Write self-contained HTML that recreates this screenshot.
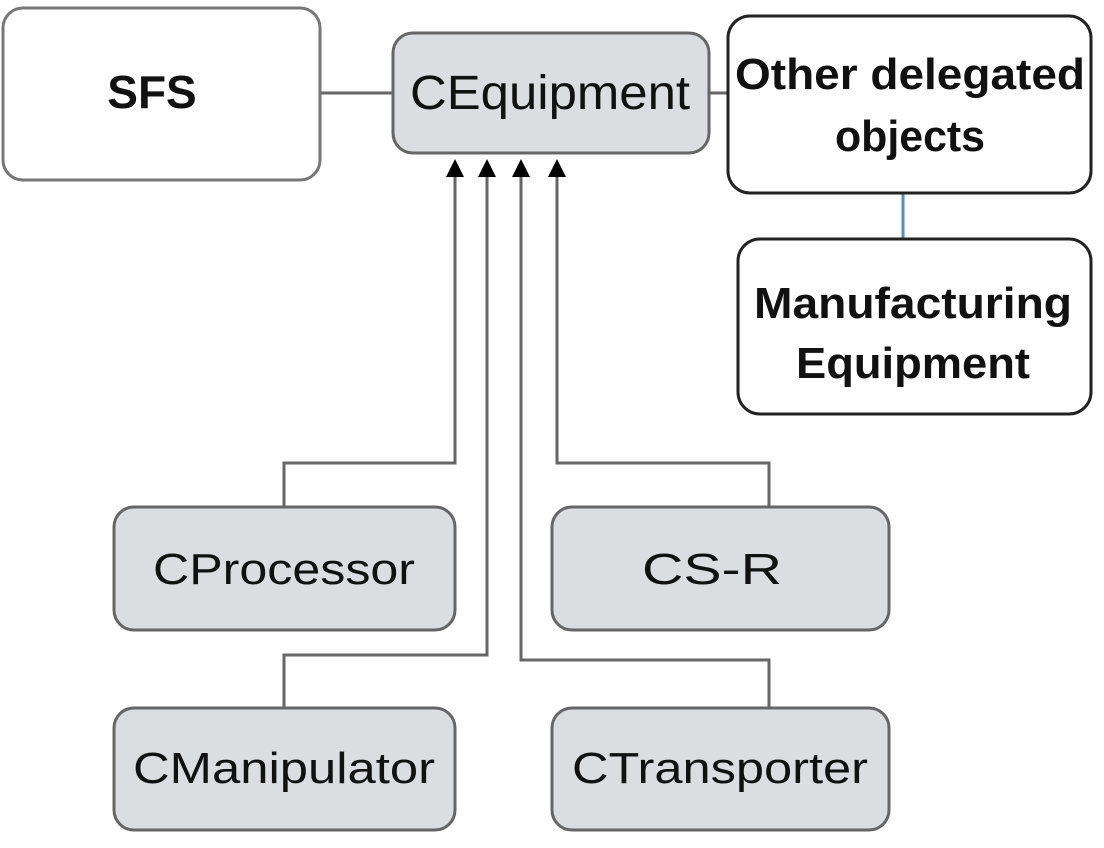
<!DOCTYPE html>
<html><head><style>html,body{margin:0;padding:0;background:#fff}svg{display:block}</style></head><body>
<svg width="1104" height="848" viewBox="0 0 1104 848" xmlns="http://www.w3.org/2000/svg" font-family="Liberation Sans, sans-serif">
<g stroke="#666" stroke-width="3" fill="none">
<line x1="320" y1="93" x2="392" y2="93"/>
<line x1="709" y1="93" x2="727" y2="93"/>
<polyline points="455,172 455,463 284,463 284,507"/>
<polyline points="557,172 557,463 769,463 769,507"/>
<polyline points="487,172 487,655 284,655 284,708"/>
<polyline points="521,172 521,660 769,660 769,708"/>
</g>
<line x1="903" y1="193" x2="903" y2="238" stroke="#5b8cc0" stroke-width="3"/>
<g fill="#000">
<polygon points="455,159 446,177 464,177"/>
<polygon points="487,159 478,177 496,177"/>
<polygon points="521,159 512,177 530,177"/>
<polygon points="557,159 548,177 566,177"/>
</g>
<rect x="3" y="8" width="317" height="172" rx="20" fill="#fff" stroke="#777" stroke-width="3"/>
<rect x="393" y="33" width="316" height="120" rx="20" fill="#dcdde0" stroke="#666" stroke-width="3"/>
<rect x="728" y="16" width="363" height="177" rx="22" fill="#fff" stroke="#222" stroke-width="3"/>
<rect x="738" y="239" width="353" height="175" rx="22" fill="#fff" stroke="#222" stroke-width="3"/>
<rect x="114" y="507" width="341" height="123" rx="20" fill="#dcdde0" stroke="#666" stroke-width="3"/>
<rect x="552" y="507" width="337" height="123" rx="20" fill="#dcdde0" stroke="#666" stroke-width="3"/>
<rect x="114" y="708" width="341" height="122" rx="20" fill="#dcdde0" stroke="#666" stroke-width="3"/>
<rect x="552" y="708" width="337" height="122" rx="20" fill="#dcdde0" stroke="#666" stroke-width="3"/>
<g fill="#111" text-anchor="middle">
<text x="152" y="108" font-size="46" font-weight="bold">SFS</text>
<text x="550" y="109" font-size="48" textLength="280" lengthAdjust="spacingAndGlyphs">CEquipment</text>
<text x="284" y="584" font-size="44" textLength="262" lengthAdjust="spacingAndGlyphs">CProcessor</text>
<text x="712" y="584" font-size="44" textLength="140" lengthAdjust="spacingAndGlyphs">CS-R</text>
<text x="284" y="783" font-size="44" textLength="302" lengthAdjust="spacingAndGlyphs">CManipulator</text>
<text x="720" y="783" font-size="44" textLength="296" lengthAdjust="spacingAndGlyphs">CTransporter</text>
<text x="910" y="89" font-size="44" font-weight="bold" textLength="350" lengthAdjust="spacingAndGlyphs">Other delegated</text>
<text x="910" y="151" font-size="44" font-weight="bold" textLength="150" lengthAdjust="spacingAndGlyphs">objects</text>
<text x="913" y="318" font-size="44" font-weight="bold" textLength="318" lengthAdjust="spacingAndGlyphs">Manufacturing</text>
<text x="913" y="378" font-size="44" font-weight="bold" textLength="234" lengthAdjust="spacingAndGlyphs">Equipment</text>
</g>
</svg>
</body></html>
